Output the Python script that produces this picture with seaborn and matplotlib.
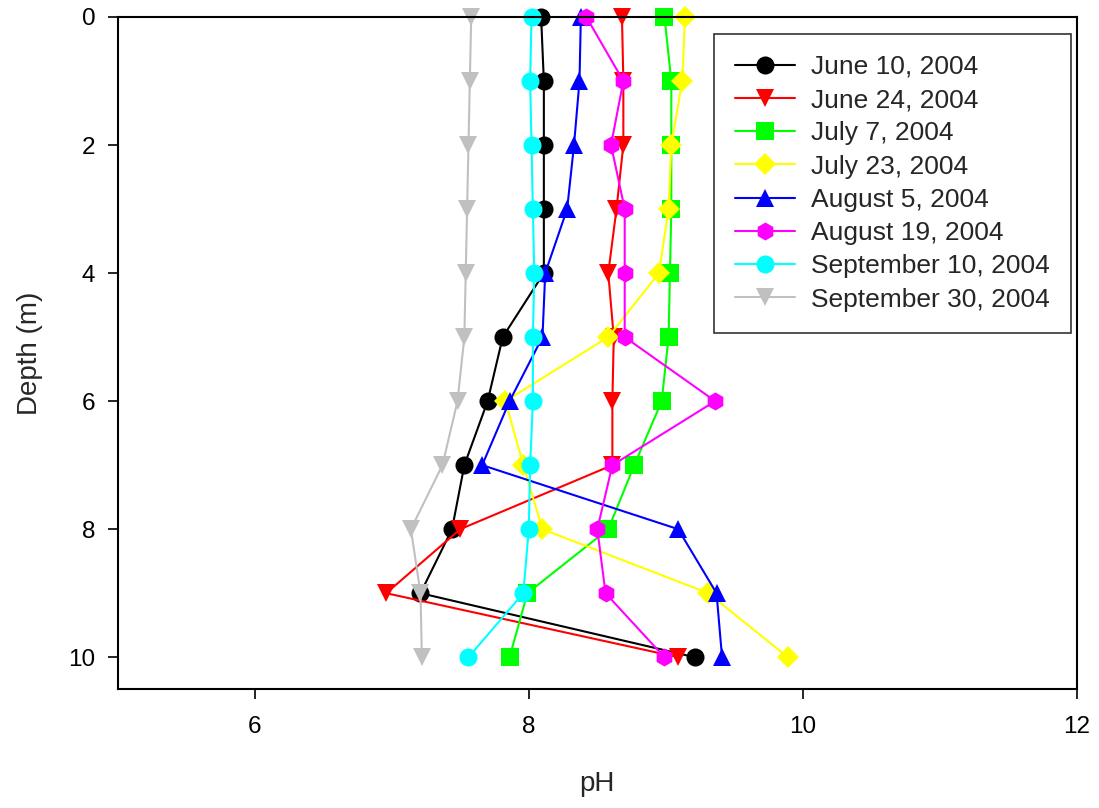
import matplotlib
matplotlib.use("Agg")
import matplotlib.pyplot as plt
import seaborn as sns
import pandas as pd

# depth profile (m) and pH readings per sampling date
depth = [0, 1, 2, 3, 4, 5, 6, 7, 8, 9, 10]
dates = ["June 10, 2004", "June 24, 2004", "July 7, 2004", "July 23, 2004",
         "August 5, 2004", "August 19, 2004", "September 10, 2004", "September 30, 2004"]

ph_jun10 = [8.09, 8.11, 8.11, 8.11, 8.11, 7.81, 7.70, 7.53, 7.44, 7.21, 9.21]
ph_jun24 = [8.68, 8.69, 8.69, 8.64, 8.58, 8.62, 8.61, 8.61, 7.50, 6.96, 9.09]
ph_jul07 = [8.99, 9.04, 9.04, 9.04, 9.03, 9.02, 8.97, 8.77, 8.58, 7.99, 7.86]
ph_jul23 = [9.14, 9.12, 9.04, 9.02, 8.95, 8.58, 7.83, 7.96, 8.10, 9.31, 9.89]
ph_aug05 = [8.38, 8.37, 8.33, 8.28, 8.12, 8.10, 7.86, 7.66, 9.09, 9.37, 9.41]
ph_aug19 = [8.42, 8.69, 8.60, 8.70, 8.70, 8.70, 9.36, 8.61, 8.50, 8.56, 8.99]
ph_sep10 = [8.02, 8.01, 8.02, 8.03, 8.04, 8.03, 8.03, 8.01, 8.00, 7.96, 7.56]
ph_sep30 = [7.58, 7.57, 7.56, 7.55, 7.54, 7.53, 7.48, 7.37, 7.14, 7.21, 7.22]

series = [ph_jun10, ph_jun24, ph_jul07, ph_jul23, ph_aug05, ph_aug19, ph_sep10, ph_sep30]
colors = ["#000000", "#FF0000", "#00FF00", "#FFFF00", "#0000FF", "#FF00FF", "#00FFFF", "#C0C0C0"]
marker_list = ["o", "v", "s", "D", "^", "h", "o", "v"]

rows = []
for d, vals in zip(dates, series):
    for z, v in zip(depth, vals):
        rows.append({"date": d, "depth": z, "pH": v})
df = pd.DataFrame(rows)

sns.set_style("white")
plt.rcParams["font.family"] = ["Liberation Sans", "DejaVu Sans"]

fig, ax = plt.subplots(figsize=(10.99, 8.08), dpi=100)
fig.subplots_adjust(left=0.107, right=0.980, top=0.979, bottom=0.147)

sns.lineplot(data=df, x="pH", y="depth", hue="date", style="date",
             hue_order=dates, style_order=dates,
             palette=dict(zip(dates, colors)), markers=dict(zip(dates, marker_list)),
             dashes=False, sort=False, estimator=None, ax=ax,
             linewidth=1.5, markersize=13, markeredgewidth=0)

# diamonds look bigger than other markers at the same size; let markers overlap the frame
for line in ax.get_lines():
    line.set_clip_on(False)
    if line.get_marker() == "D":
        line.set_markersize(11)

ax.set_xlim(5, 12)
ax.set_ylim(10.5, 0)
ax.set_xticks([6, 8, 10, 12])
ax.set_yticks([0, 2, 4, 6, 8, 10])
ax.tick_params(direction="out", length=7, width=1.2, colors="black",
               labelsize=17.5, bottom=True, left=True)
ax.tick_params(axis="x", pad=12)
ax.tick_params(axis="y", pad=9)
for s in ax.spines.values():
    s.set_color("black")
    s.set_linewidth(1.5)

ax.set_xlabel("pH", fontsize=20, labelpad=24)
ax.set_ylabel("Depth (m)", fontsize=20, labelpad=18)

handles, labels = ax.get_legend_handles_labels()
for h in handles:
    if h.get_marker() == "D":
        h.set_markersize(11)
leg = ax.legend(handles, labels, loc="upper right", bbox_to_anchor=(0.9935, 0.975),
                fontsize=19, frameon=True, fancybox=False, edgecolor="black",
                handlelength=2.27, labelspacing=0.35, borderpad=0.8, handletextpad=0.6,
                borderaxespad=0)
leg.get_frame().set_linewidth(1.2)

fig.savefig("out.png", dpi=100)
